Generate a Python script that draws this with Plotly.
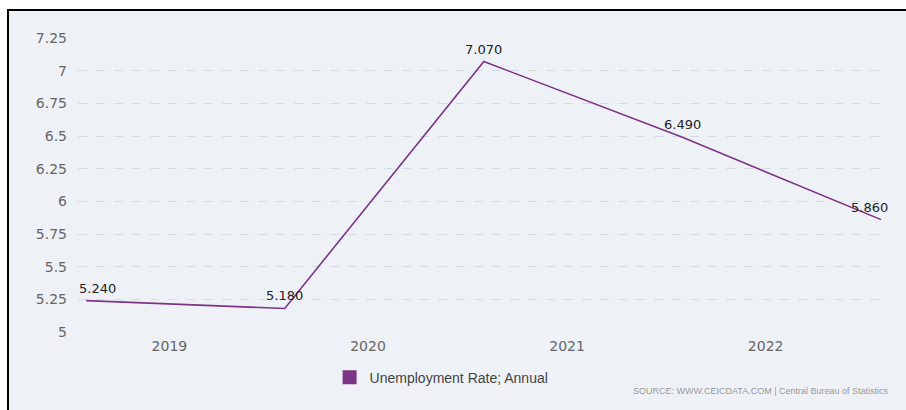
import plotly.graph_objects as go

# ---- data ----
dates = ["2018-08-01", "2019-08-01", "2020-08-01", "2021-08-01", "2022-08-01"]
values = [5.24, 5.18, 7.07, 6.49, 5.86]
label_text = ["5.240", "5.180", "7.070", "6.490", "5.860"]
label_xshift = [11, 0, 0, 0, -12]
series_name = "Unemployment Rate; Annual"
year_ticks = ["2019-01-01", "2020-01-01", "2021-01-01", "2022-01-01"]
year_labels = ["2019", "2020", "2021", "2022"]
y_ticks = [5, 5.25, 5.5, 5.75, 6, 6.25, 6.5, 6.75, 7, 7.25]
y_labels = ["5", "5.25", "5.5", "5.75", "6", "6.25", "6.5", "6.75", "7", "7.25"]
source_text = "SOURCE: WWW.CEICDATA.COM | Central Bureau of Statistics"

LINE = "#7d3386"
BG = "#eef2f7"

fig = go.Figure()
fig.add_trace(go.Scatter(x=dates, y=values, mode="lines",
                         line=dict(color=LINE, width=1.6),
                         showlegend=False, hoverinfo="x+y"))
# legend entry with square swatch
fig.add_trace(go.Scatter(x=[None], y=[None], mode="markers", name=series_name,
                         marker=dict(symbol="square", size=14, color=LINE)))

annotations = []
for d, v, t, xs in zip(dates, values, label_text, label_xshift):
    annotations.append(dict(x=d, y=v, xref="x", yref="y", text=t, showarrow=False,
                            xanchor="center", yanchor="bottom", xshift=xs, yshift=3,
                            font=dict(family="DejaVu Sans", size=13, color="#222222")))
annotations.append(dict(x=1.005, y=-0.2, xref="paper", yref="paper", text=source_text,
                        showarrow=False, xanchor="right", yanchor="middle",
                        font=dict(family="Liberation Sans", size=9, color="#999999")))

shapes = [
    # panel background
    dict(type="rect", xref="paper", yref="paper", xsizemode="pixel", ysizemode="pixel",
         xanchor=0, yanchor=1, x0=-70, x1=840, y0=-400, y1=28,
         fillcolor=BG, line=dict(width=0), layer="below"),
    # top border
    dict(type="line", xref="paper", yref="paper", xsizemode="pixel", ysizemode="pixel",
         xanchor=0, yanchor=1, x0=-71, x1=840, y0=28, y1=28,
         line=dict(color="#000000", width=2), layer="above"),
    # left border
    dict(type="line", xref="paper", yref="paper", xsizemode="pixel", ysizemode="pixel",
         xanchor=0, yanchor=1, x0=-70, x1=-70, y0=29, y1=-400,
         line=dict(color="#000000", width=2), layer="above"),
]

fig.update_layout(
    width=906, height=410,
    margin=dict(l=78, r=19, t=38, b=78),
    paper_bgcolor="#ffffff",
    plot_bgcolor=BG,
    font=dict(family="DejaVu Sans", size=14, color="#666666"),
    showlegend=True,
    legend=dict(x=0.311, y=-0.155, xanchor="left", yanchor="middle",
                orientation="h", bgcolor="rgba(0,0,0,0)",
                font=dict(family="Liberation Sans", size=14, color="#444444"),
                itemclick=False, itemdoubleclick=False),
    annotations=annotations,
    shapes=shapes,
    xaxis=dict(type="date", range=["2018-07-17", "2022-08-12"],
               tickmode="array", tickvals=year_ticks, ticktext=year_labels,
               showgrid=False, zeroline=False, showline=False, ticks="",
               ticklabelstandoff=4,
               tickfont=dict(family="DejaVu Sans", size=14, color="#666666")),
    yaxis=dict(range=[5, 7.25], tickmode="array", tickvals=y_ticks, ticktext=y_labels,
               showgrid=True, gridcolor="#d6dce4", gridwidth=1, griddash="dash",
               zeroline=False, showline=False, ticks="", ticklabelstandoff=10,
               tickfont=dict(family="DejaVu Sans", size=14, color="#666666")),
)

fig.write_html("out.html")
